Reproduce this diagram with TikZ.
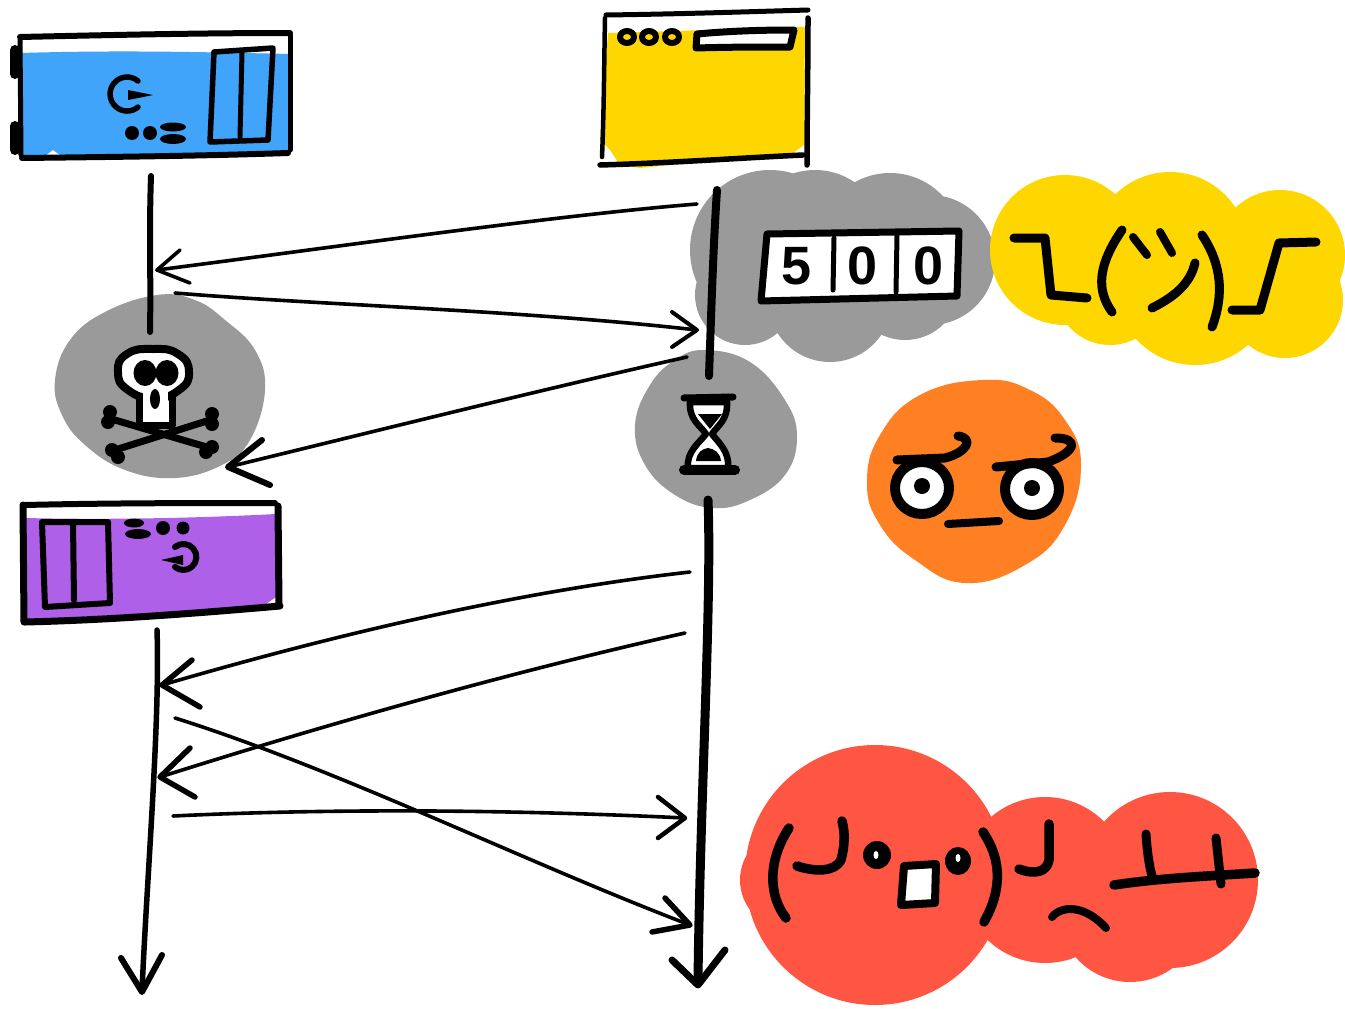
\documentclass[tikz,border=0pt]{standalone}
\usepackage{fontspec}
\setmainfont{Liberation Sans}
\definecolor{cblue}{HTML}{40A4FA}
\definecolor{cyellow}{HTML}{FFD700}
\definecolor{cgray}{HTML}{9B9A9B}
\definecolor{corange}{HTML}{FE8023}
\definecolor{cred}{HTML}{FF5543}
\definecolor{cpurple}{HTML}{AE60E8}
\tikzset{
  ink/.style={draw=black,line cap=round,line join=round,line width=#1},
  ink/.default=5pt,
  blob/.style={fill=#1,draw=none},
  dot/.style={fill=black,draw=none},
  wire/.style={ink=3.6pt},
  digit/.style={font=\fontsize{54}{54}\selectfont\bfseries,inner sep=0pt,text=black}
}
\begin{document}
\begin{tikzpicture}[x=1pt,y=-1pt]
\useasboundingbox (0,0) rectangle (1345,1009);
% colour blobs
\fill[blob=cgray] (770,250) circle (80) (815,240) circle (70) (890,245) circle (72) (930,260) circle (65) (830,300) circle (62) (905,285) circle (55) (745,295) circle (50);
\fill[blob=cyellow] (1065,250) circle (75) (1170,250) circle (78) (1195,285) circle (80) (1280,255) circle (65) (1285,300) circle (58) (1110,290) circle (55);
\fill[blob=cgray] plot[smooth cycle,tension=.7] coordinates {(157,295)(195,300)(225,320)(255,350)(265,390)(250,440)(222,465)(175,478)(125,470)(85,445)(62,415)(55,380)(70,340)(105,312)};
\fill[blob=cgray] plot[smooth cycle,tension=.7] coordinates {(705,350)(750,362)(785,400)(797,437)(785,475)(750,500)(713,508)(675,495)(645,465)(635,425)(650,385)(675,360)};
\fill[blob=corange] plot[smooth cycle,tension=.75] coordinates {(983,380)(1030,390)(1065,420)(1081,465)(1065,525)(1025,565)(965,583)(915,560)(880,525)(867,483)(880,435)(920,395)};
\fill[blob=cred] (875,875) circle (130) (790,880) circle (50) (1045,880) circle (83) (1170,880) circle (88) (1130,910) circle (72);
% blue server
\fill[blob=cblue] (20,53) .. controls (120,50) and (200,52) .. (290,54) -- (290,155) -- (60,155) -- (53,150) -- (46,155) -- (20,155) -- cycle;
\draw[ink=6pt] (20,37) .. controls (110,35) and (200,33) .. (290,33);
\draw[ink=5pt] (290,35) -- (290,150);
\draw[ink=6pt] (22,158) .. controls (110,157) and (200,156) .. (288,153);
\draw[ink=5pt] (20,40) -- (21,155);
\draw[ink=10pt] (15,50) -- (15,74);
\draw[ink=10pt] (15,126) -- (15,150);
\draw[ink=5.5pt] (210,142) -- (214,52) -- (273,48) -- (268,140) -- cycle;
\draw[ink=5pt] (242,52) -- (240,137);
\draw[ink=5.5pt] (138,81) arc[start angle=-50,end angle=-310,radius=17];
\fill[dot] (128,90) -- (153,95) -- (128,100) -- cycle;
\fill[dot] (132,133) circle (7);
\fill[dot] (150,133) circle (7);
\fill[dot] (173,127) ellipse (13 and 4.5);
\fill[dot] (173,139) ellipse (13 and 5);
% yellow browser
\fill[blob=cyellow] (608,33) -- (805,27) -- (804,145) -- (793,153) -- (640,168) -- (620,165) -- (610,150) -- (600,140) -- cycle;
\draw[ink=5pt] (606,15) .. controls (680,14) and (740,12) .. (808,10);
\draw[ink=4.5pt] (605,18) .. controls (604,70) and (604,110) .. (602,157);
\draw[ink=5.5pt] (808,18) .. controls (808,70) and (807,120) .. (807,165);
\draw[ink=5.5pt] (600,165) .. controls (670,163) and (740,158) .. (803,155);
\foreach \cx in {627,649,672}{\draw[ink=6pt] (\cx,37) ellipse (7 and 6);}
\draw[ink=7pt,fill=white] (697,34) .. controls (730,31) and (760,30) .. (794,30) -- (790,47) .. controls (760,47) and (730,47) .. (696,48) -- cycle;
% connectors
\coordinate (a1s) at (697,204); \coordinate (a1t) at (157,270);
\coordinate (a2s) at (175,293); \coordinate (a2t) at (697,330);
\coordinate (a3s) at (687,357); \coordinate (a3t) at (228,467);
\coordinate (a4s) at (690,572); \coordinate (a4t) at (162,685);
\coordinate (a5s) at (685,633); \coordinate (a5t) at (160,777);
\coordinate (a6s) at (175,718); \coordinate (a6t) at (690,925);
\coordinate (a7s) at (173,816); \coordinate (a7t) at (685,818);
\draw[wire] (a1s) .. controls (560,215) and (350,245) .. (a1t);
\draw[wire] (180,250) -- (a1t) -- (190,283);
\draw[wire] (a2s) .. controls (320,305) and (520,310) .. (a2t);
\draw[ink=4pt] (672,312) -- (a2t) -- (672,347);
\draw[wire] (a3s) .. controls (540,390) and (380,430) .. (a3t);
\draw[ink=6pt] (262,440) -- (a3t) -- (270,485);
\draw[wire] (a4s) .. controls (530,590) and (350,630) .. (a4t);
\draw[ink=5.5pt] (192,660) -- (a4t) -- (200,707);
\draw[wire] (a5s) .. controls (520,670) and (340,720) .. (a5t);
\draw[ink=5.5pt] (190,748) -- (a5t) -- (195,797);
\draw[wire] (a6s) .. controls (340,770) and (520,860) .. (a6t);
\draw[ink=5.5pt] (665,898) -- (a6t) -- (652,932);
\draw[wire] (a7s) .. controls (340,808) and (520,810) .. (a7t);
\draw[ink=4.5pt] (658,797) -- (a7t) -- (658,838);
% lifelines
\draw[ink=6pt] (151,176) .. controls (149,230) and (151,280) .. (150,332);
\draw[ink=8pt] (717,190) .. controls (713,250) and (711,320) .. (709,376);
\draw[ink=5.5pt] (157,630) .. controls (160,720) and (148,860) .. (142,990);
\draw[ink=6pt] (121,958) -- (142,992) -- (162,955);
\draw[ink=9pt] (708,500) .. controls (712,600) and (700,800) .. (698,982);
\draw[ink=7pt] (672,960) -- (698,985) -- (725,950);
% skull
\draw[ink=7pt] (108,418) -- (210,448);
\draw[ink=7pt] (115,450) -- (210,420);
\foreach \bx/\by in {110/412,108/422,112/450,118/457,212/414,212/424,206/452,212/447}{\fill[dot] (\bx,\by) circle (7);}
\draw[ink=7pt,fill=white] (139,385) rectangle (172,425);
\draw[ink=8pt,fill=white] plot[smooth cycle,tension=.9] coordinates {(153,349)(178,354)(189,372)(179,390)(154,398)(128,390)(118,372)(127,354)};
\fill[white] (143,385) rectangle (168,421);
\fill[dot] (145,373) ellipse (11.5 and 13);
\fill[dot] (167,373) ellipse (11.5 and 13);
\fill[dot] (155,399) ellipse (5 and 10);
% hourglass
\draw[ink=6.5pt,fill=white] (690,402) -- (727,402) .. controls (728,420) and (718,425) .. (712,434) .. controls (718,442) and (730,452) .. (728,468) -- (688,468) .. controls (686,452) and (700,442) .. (706,434) .. controls (700,425) and (689,420) .. (690,402) -- cycle;
\fill[dot] (698,414) -- (722,414) -- (710,429) -- cycle;
\fill[dot] (696,461) -- (721,461) .. controls (720,452) and (714,449) .. (708,448) .. controls (702,449) and (697,452) .. (696,461) -- cycle;
\draw[ink=7pt] (684,398) -- (733,397);
\draw[ink=10pt] (684,470) -- (735,470);
% purple server
\fill[blob=cpurple] (25,518) .. controls (110,520) and (200,518) .. (276,514) -- (276,597) -- (262,607) -- (25,620) -- cycle;
\draw[ink=6pt] (25,505) .. controls (110,503) and (200,503) .. (275,503);
\draw[ink=7pt] (278,506) -- (279,604);
\draw[ink=7pt] (23,505) -- (24,622);
\draw[ink=7pt] (25,622) .. controls (110,620) and (200,613) .. (280,606);
\draw[ink=6pt] (42,522) -- (108,522) -- (110,603) -- (45,607) -- cycle;
\draw[ink=6pt] (73,523) -- (74,600);
\fill[dot] (134,523) ellipse (10 and 4.5);
\fill[dot] (138,534) ellipse (13 and 5);
\fill[dot] (163,528) circle (7);
\fill[dot] (183,528) circle (6.5);
\draw[ink=6pt] (175,547) arc[start angle=-130,end angle=130,radius=13];
\fill[dot] (161,560) -- (183,555) -- (183,565) -- cycle;
% 500 display
\draw[ink=7pt,fill=white] (767,234) -- (959,231) -- (957,296) -- (761,301) -- cycle;
\draw[ink=5pt] (834,238) -- (833,290);
\draw[ink=5pt] (897,236) -- (896,292);
\node[digit] (d1) at (797,266) {5};
\node[digit] (d2) at (863,266) {0};
\node[digit] (d3) at (929,266) {0};
% shrug
\draw[ink=9pt] (1014,238) -- (1045,238) -- (1051,295) -- (1087,298);
\draw[ink=9pt] (1122,230) .. controls (1098,265) and (1096,290) .. (1112,312);
\draw[ink=8pt] (1133,237) -- (1147,255);
\draw[ink=8pt] (1160,232) -- (1172,253);
\draw[ink=9pt] (1195,263) .. controls (1190,285) and (1172,298) .. (1152,308);
\draw[ink=9pt] (1202,235) .. controls (1222,265) and (1224,295) .. (1212,327);
\draw[ink=9pt] (1316,242) -- (1279,243) -- (1260,310) -- (1232,310);
% disapproval
\draw[ink=10pt,fill=white] (922,488) ellipse (27 and 26);
\draw[ink=10pt,fill=white] (1032,489) ellipse (27 and 26);
\fill[dot] (922,486) circle (8);
\fill[dot] (1032,488) circle (8);
\draw[ink=9pt] (897,460) -- (945,458) .. controls (968,452) and (974,438) .. (958,436);
\draw[ink=9pt] (996,467) -- (1048,462) .. controls (1076,452) and (1080,438) .. (1055,438);
\draw[ink=8pt] (948,524) -- (999,521);
% table flip
\draw[ink=9.5pt] (789,828) .. controls (768,860) and (768,895) .. (786,918);
\draw[ink=9.5pt] (797,866) .. controls (815,872) and (835,872) .. (841,860) .. controls (845,845) and (845,832) .. (842,821);
\fill[dot] (877,855) ellipse (14 and 14);
\fill[white] (876,855) ellipse (2.5 and 4);
\fill[dot] (958,861) ellipse (13 and 14);
\fill[white] (958,858) ellipse (2.5 and 4);
\draw[ink=8pt,fill=white] (904,866) -- (936,864) -- (935,903) -- (901,905) -- cycle;
\draw[ink=9.5pt] (983,832) .. controls (1002,860) and (1002,890) .. (984,922);
\draw[ink=9.5pt] (1019,869) .. controls (1035,875) and (1047,872) .. (1049,860) -- (1049,824);
\draw[ink=8pt] (1052,917) .. controls (1062,905) and (1085,905) .. (1106,928);
\draw[ink=9.5pt] (1114,885) .. controls (1160,878) and (1210,876) .. (1255,873);
\draw[ink=9pt] (1146,834) .. controls (1147,850) and (1149,865) .. (1152,876);
\draw[ink=9pt] (1216,838) -- (1221,884);
\end{tikzpicture}
\end{document}
